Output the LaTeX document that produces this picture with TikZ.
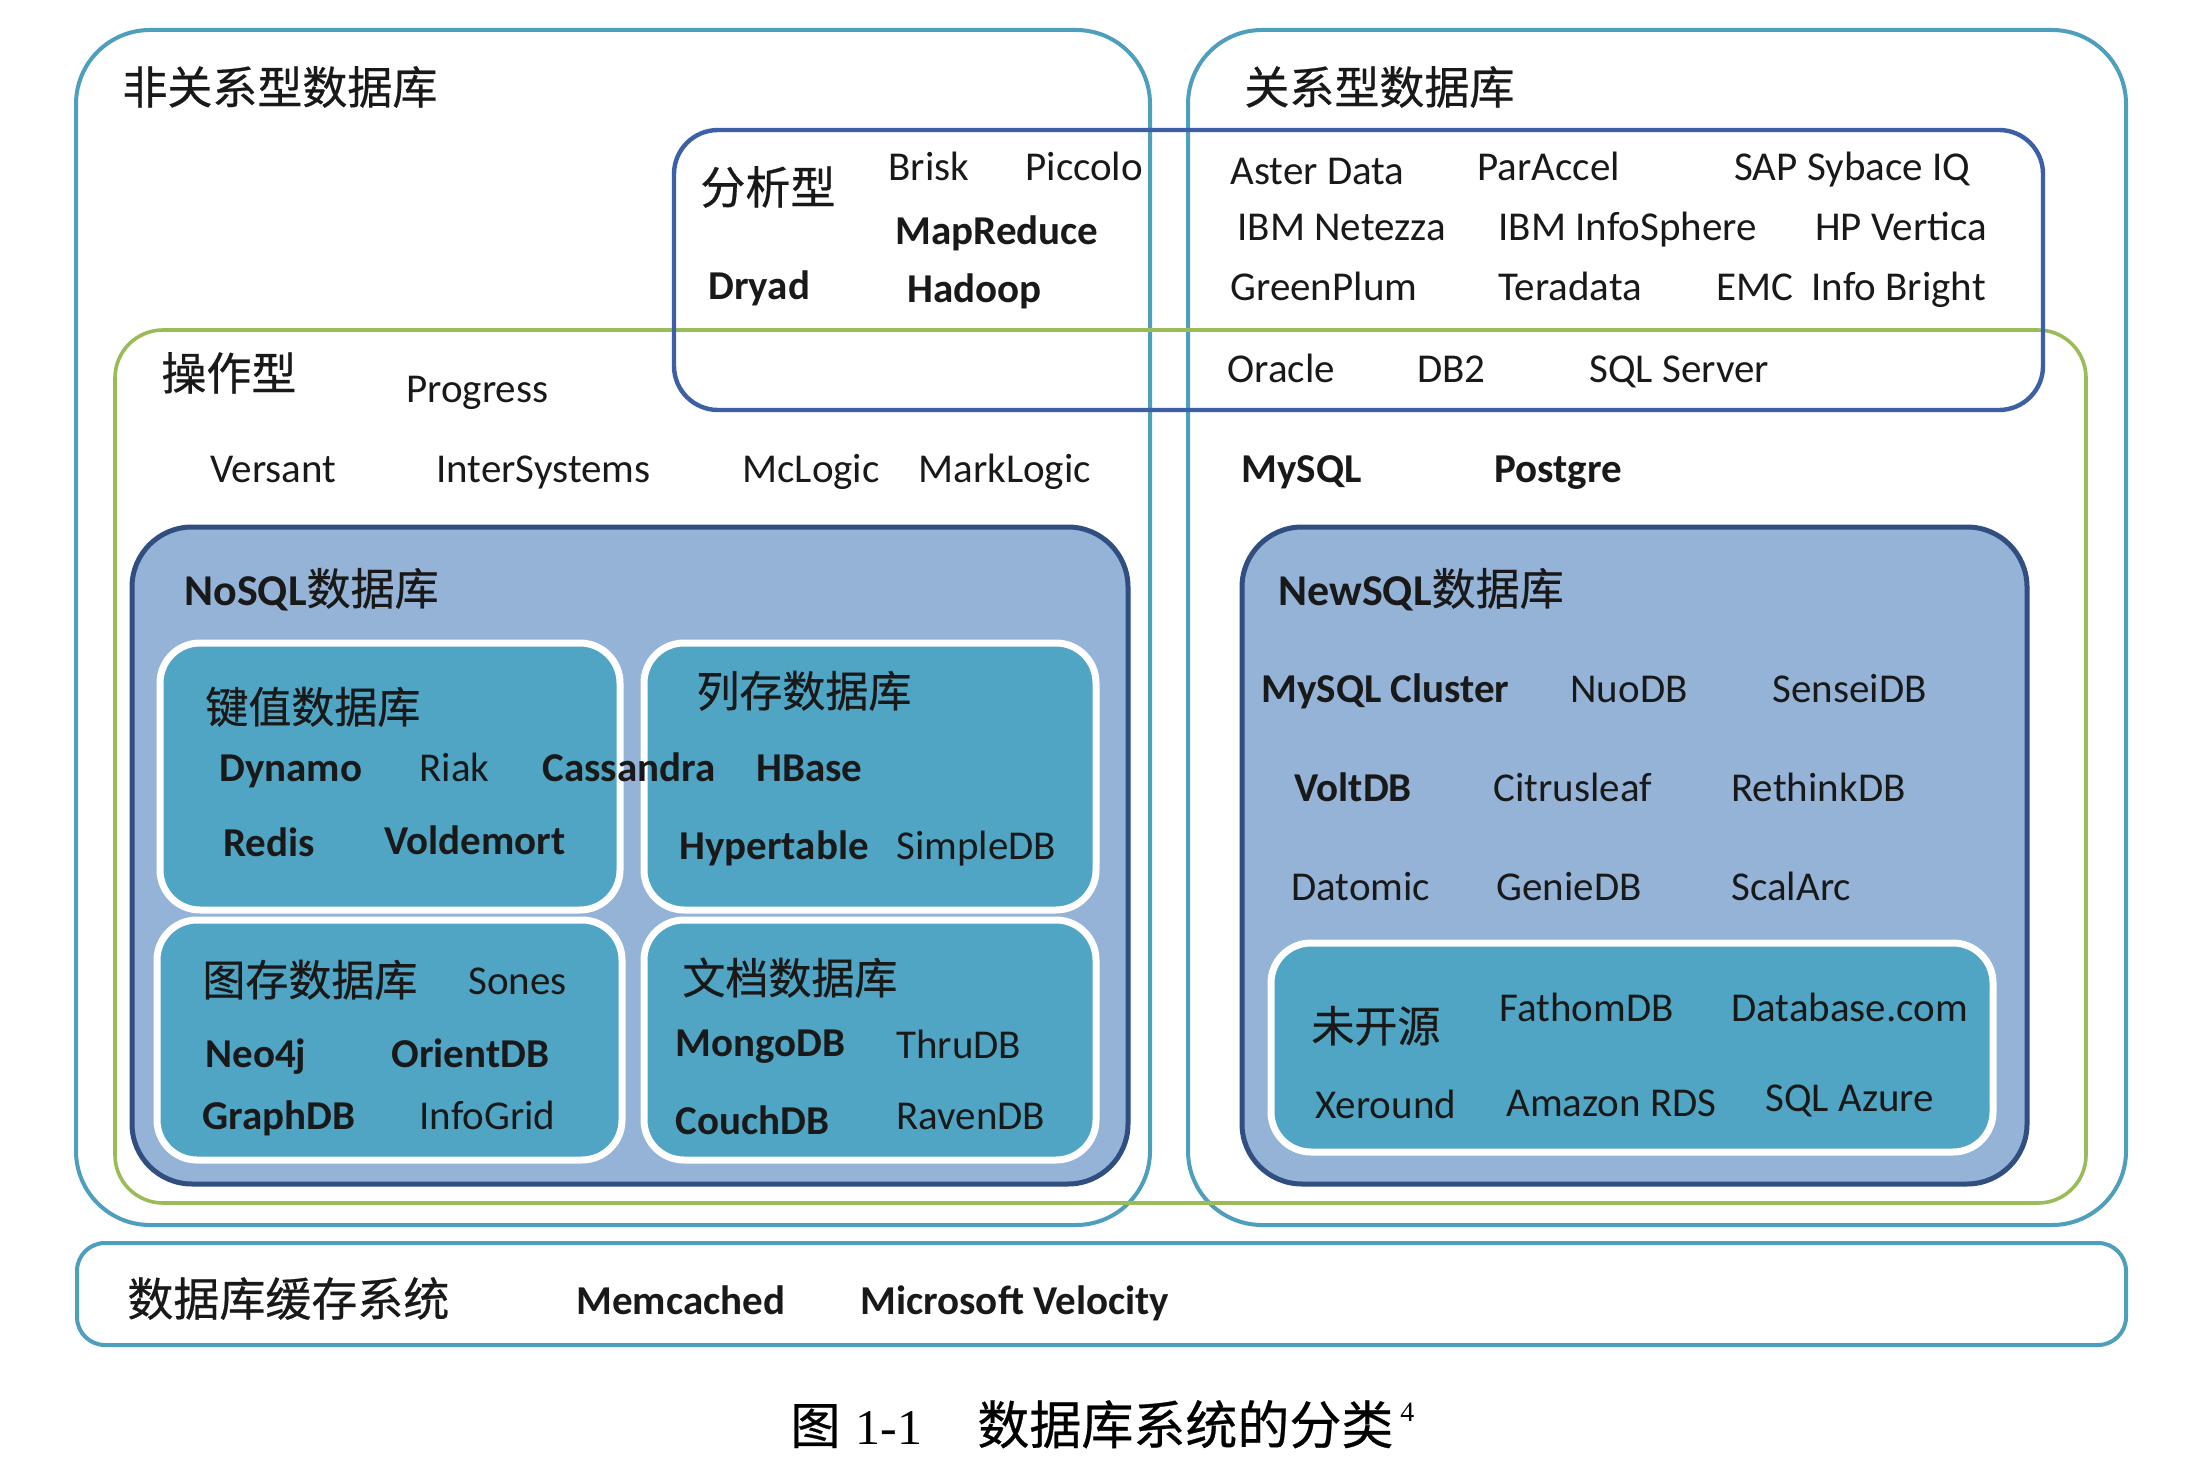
\documentclass[tikz,border=0pt]{standalone}
\usepackage{fontspec}
\setmainfont{Carlito}
\newfontfamily\cjk[FakeBold=0.5]{Noto Sans CJK SC}
\newfontfamily\capserif{Liberation Serif}
\definecolor{outerc}{RGB}{78,158,190}
\definecolor{anac}{RGB}{60,95,165}
\definecolor{opc}{RGB}{155,187,89}
\definecolor{sqlborder}{RGB}{48,78,128}
\definecolor{sqlfill}{RGB}{149,178,215}
\definecolor{catfill}{RGB}{80,165,196}
\definecolor{txt}{RGB}{25,25,25}
\begin{document}
\begin{tikzpicture}[x=0.5pt,y=-0.5pt,
  lbl/.style={anchor=west,inner sep=0pt,text=txt,font=\fontsize{20.5}{22}\selectfont,text height=0.66em,text depth=0.02em,yshift=-3pt},
  blbl/.style={lbl,font=\fontsize{20.5}{22}\selectfont\bfseries},
  ctitle/.style={anchor=west,inner sep=0pt,text=txt,font=\fontsize{22.5}{24}\selectfont\cjk,text height=0.7em,text depth=0em,yshift=-3.5pt},
  csub/.style={ctitle,font=\fontsize{21.5}{23}\selectfont\cjk},
  mtitle/.style={anchor=west,inner sep=0pt,text=txt,font=\fontsize{22}{24}\selectfont,text height=0.7em,text depth=0em,yshift=-3pt},
  outerbox/.style={draw=outerc,line width=2pt,rounded corners=37pt},
  cachebox/.style={draw=outerc,line width=2pt,rounded corners=14pt},
  anabox/.style={draw=anac,line width=2.2pt,rounded corners=22pt},
  opbox/.style={draw=opc,line width=1.8pt,rounded corners=24pt},
  sqlbox/.style={draw=sqlborder,fill=sqlfill,line width=2.5pt,rounded corners=30pt},
  catbox/.style={draw=white,fill=catfill,line width=3.5pt,rounded corners=20pt},
  captxt/.style={anchor=west,inner sep=0pt,text=black,text height=0.7em,text depth=0em,yshift=-7pt}
]
\useasboundingbox[fill=white] (0,0) rectangle (2204,1470);

% frames
\draw[outerbox] (76,30) rectangle (1150,1225);
\draw[outerbox] (1188,30) rectangle (2126,1225);
\draw[cachebox] (77,1243) rectangle (2126,1345);
\draw[opbox] (115,330) rectangle (2086,1203);
\draw[anabox] (674,130) rectangle (2043,410);
\draw[sqlbox] (132,527) rectangle (1128,1184);
\draw[sqlbox] (1242,527) rectangle (2027,1184);
\draw[catbox] (160,643) rectangle (620,910);
\draw[catbox] (644,643) rectangle (1096,910);
\draw[catbox] (157,920) rectangle (622,1160);
\draw[catbox] (644,920) rectangle (1096,1160);
\draw[catbox] (1271,943) rectangle (1993,1152);

% titles
\node[ctitle] (tnonrel) at (122,90) {非关系型数据库};
\node[ctitle] (trel) at (1244,90) {关系型数据库};
\node[ctitle] (tana) at (700,190) {分析型};
\node[ctitle] (top) at (161,376) {操作型};
\node[mtitle] (tnosql) at (184,592) {{\bfseries NoSQL}{\cjk 数据库}};
\node[mtitle] (tnewsql) at (1278,592) {{\bfseries NewSQL}{\cjk 数据库}};
\node[csub] (tkv) at (205,709) {键值数据库};
\node[csub] (tcol) at (696,693) {列存数据库};
\node[csub] (tgraph) at (202,982) {图存数据库};
\node[csub] (tdoc) at (682,980) {文档数据库};
\node[csub] (tclosed) at (1311,1028) {未开源};
\node[ctitle,font=\fontsize{23}{25}\selectfont\cjk] (tcache) at (127,1302) {数据库缓存系统};

% analytic (non-relational)
\node[lbl] (brisk) at (888,168) {Brisk};
\node[lbl] (piccolo) at (1025,168) {Piccolo};
\node[blbl] (mapreduce) at (895,232) {MapReduce};
\node[blbl] (dryad) at (708,287) {Dryad};
\node[blbl] (hadoop) at (907,290) {Hadoop};

% analytic (relational)
\node[lbl] (aster) at (1230,172) {Aster Data};
\node[lbl] (paraccel) at (1477,168) {ParAccel};
\node[lbl] (sybase) at (1734,168) {SAP Sybace IQ};
\node[lbl] (netezza) at (1237,228) {IBM Netezza};
\node[lbl] (infosphere) at (1498,228) {IBM InfoSphere};
\node[lbl] (vertica) at (1815,228) {HP Vertica};
\node[lbl] (greenplum) at (1230,288) {GreenPlum};
\node[lbl] (teradata) at (1498,288) {Teradata};
\node[lbl] (emc) at (1716,288) {EMC};
\node[lbl] (infobright) at (1811,288) {Info Bright};
\node[lbl] (oracle) at (1227,370) {Oracle};
\node[lbl] (db2) at (1417,370) {DB2};
\node[lbl] (sqlserver) at (1589,370) {SQL Server};

% operational
\node[lbl] (progress) at (406,390) {Progress};
\node[lbl] (versant) at (210,470) {Versant};
\node[lbl] (intersys) at (436,470) {InterSystems};
\node[lbl] (mclogic) at (742,470) {McLogic};
\node[lbl] (marklogic) at (918,470) {MarkLogic};
\node[blbl] (mysql) at (1241,470) {MySQL};
\node[blbl] (postgre) at (1494,470) {Postgre};

% NoSQL
\node[blbl] (dynamo) at (219,769) {Dynamo};
\node[lbl] (riak) at (419,769) {Riak};
\node[blbl] (cassandra) at (542,769) {Cassandra};
\node[blbl] (hbase) at (756,769) {HBase};
\node[blbl] (redis) at (223,844) {Redis};
\node[blbl] (voldemort) at (384,842) {Voldemort};
\node[blbl] (hypertable) at (679,847) {Hypertable};
\node[lbl] (simpledb) at (896,847) {SimpleDB};
\node[lbl] (sones) at (468,982) {Sones};
\node[blbl] (neo4j) at (205,1055) {Neo4j};
\node[blbl] (orientdb) at (391,1055) {OrientDB};
\node[blbl] (graphdb) at (202,1117) {GraphDB};
\node[lbl] (infogrid) at (419,1117) {InfoGrid};
\node[blbl] (mongodb) at (675,1044) {MongoDB};
\node[lbl] (thrudb) at (896,1046) {ThruDB};
\node[blbl] (couchdb) at (675,1122) {CouchDB};
\node[lbl] (ravendb) at (896,1117) {RavenDB};

% NewSQL
\node[blbl] (mysqlcluster) at (1261,690) {MySQL Cluster};
\node[lbl] (nuodb) at (1570,690) {NuoDB};
\node[lbl] (senseidb) at (1772,690) {SenseiDB};
\node[blbl] (voltdb) at (1294,789) {VoltDB};
\node[lbl] (citrusleaf) at (1493,789) {Citrusleaf};
\node[lbl] (rethinkdb) at (1731,789) {RethinkDB};
\node[lbl] (datomic) at (1291,888) {Datomic};
\node[lbl] (geniedb) at (1496,888) {GenieDB};
\node[lbl] (scalarc) at (1731,888) {ScalArc};
\node[lbl] (fathomdb) at (1499,1009) {FathomDB};
\node[lbl] (databasecom) at (1731,1009) {Database.com};
\node[lbl] (xeround) at (1315,1106) {Xeround};
\node[lbl] (amazonrds) at (1506,1104) {Amazon RDS};
\node[lbl] (sqlazure) at (1765,1099) {SQL Azure};

% cache
\node[blbl] (memcached) at (576,1302) {Memcached};
\node[blbl] (velocity) at (860,1302) {Microsoft Velocity};

% caption
\node[captxt,font=\fontsize{25}{27}\selectfont\cjk] (capfig) at (790,1423) {图};
\node[captxt,font=\fontsize{25}{27}\selectfont\capserif] (capnum) at (855,1423) {1-1};
\node[captxt,font=\fontsize{26}{28}\selectfont\cjk] (captext) at (977,1423) {数据库系统的分类};
\node[anchor=west,inner sep=0pt,font=\fontsize{14}{15}\selectfont\capserif] (capsup) at (1400,1412) {4};
\end{tikzpicture}
\end{document}
